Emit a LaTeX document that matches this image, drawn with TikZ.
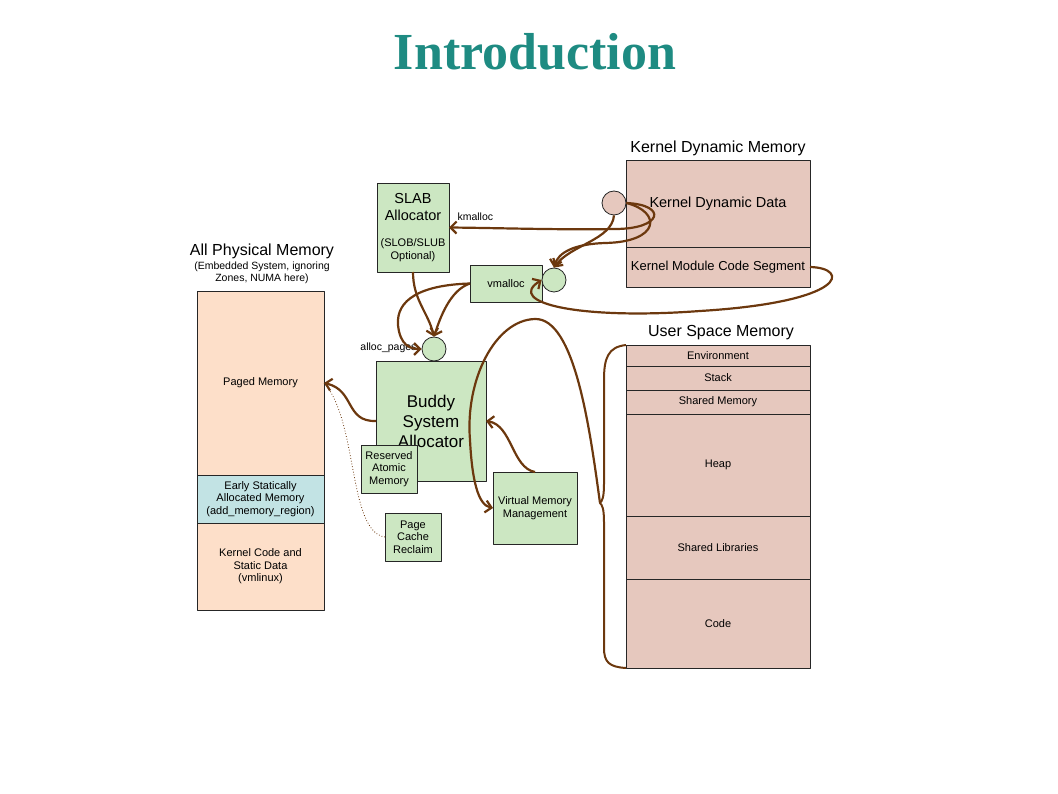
\documentclass[tikz,border=0pt]{standalone}
\usepackage{fontspec}
\setmainfont{Liberation Sans}
\newfontfamily\titlefont{Liberation Serif}
\usetikzlibrary{arrows.meta}
\usetikzlibrary{positioning}
\definecolor{brn}{RGB}{108,56,14}
\definecolor{grnfill}{RGB}{204,231,194}
\definecolor{pnkfill}{RGB}{230,200,190}
\definecolor{pchfill}{RGB}{253,223,201}
\definecolor{bluefill}{RGB}{194,227,228}
\definecolor{tealtitle}{RGB}{30,139,130}
\begin{document}
\begin{tikzpicture}[x=1pt,y=-1pt,>={Straight Barb[length=6pt,width=12pt]},
					line join=round]
					\tikzstyle{region}=[draw=black!85,line width=0.8pt,inner sep=0pt,outer sep=0pt,align=center,
					font=\fontsize{11}{12.5}\selectfont]
					\tikzstyle{user}=[region,fill=pnkfill,minimum width=184pt]
					\tikzstyle{phys}=[region,fill=pchfill,minimum width=127pt]
					\tikzstyle{unit}=[region,fill=grnfill]
					\tikzstyle{port}=[circle,draw=black!85,line width=0.8pt,minimum size=24pt,inner sep=0pt]
					\tikzstyle{head}=[font=\fontsize{16}{18}\selectfont]
					\tikzstyle{note}=[font=\fontsize{10.5}{12}\selectfont]
					\tikzstyle{conn}=[draw=brn,line width=2.2pt,->]
					
					\useasboundingbox (0,0) rectangle (1058,794);
					
					\node[font=\titlefont\bfseries\fontsize{52}{60}\selectfont,text=tealtitle] (title) at (535,52) {Introduction};
					
					% kernel dynamic memory
					\node[head] (kdm_t) at (718,148) {Kernel Dynamic Memory};
					\node[user,minimum height=87pt,font=\fontsize{14.5}{17}\selectfont] (kdd) at (718,203.5) {Kernel Dynamic Data};
					\node[user,minimum height=40pt,below=0pt of kdd,font=\fontsize{13}{15}\selectfont] (kmcs) {Kernel Module Code Segment};
					
					% user space memory
					\node[head] (usm_t) at (721,333) {User Space Memory};
					\node[user,minimum height=21pt] (env) at (718,355.5) {Environment};
					\node[user,minimum height=24pt,below=0pt of env] (stack) {Stack};
					\node[user,minimum height=24pt,below=0pt of stack] (shm) {Shared Memory};
					\node[user,minimum height=102pt,below=0pt of shm] (heap) {Heap};
					\node[user,minimum height=63pt,below=0pt of heap] (shlib) {Shared Libraries};
					\node[user,minimum height=89pt,below=0pt of shlib] (code) {Code};
					
					% all physical memory
					\node[head] (apm_t) at (262,251) {All Physical Memory};
					\node[note,align=center] (apm_n) at (262,273) {(Embedded System, ignoring\\Zones, NUMA here)};
					\node[phys,minimum height=184pt] (paged) at (260.5,383) {Paged Memory};
					\node[phys,minimum height=48pt,below=0pt of paged,fill=bluefill] (early) {Early Statically\\Allocated Memory\\(add\_memory\_region)};
					\node[phys,minimum height=87pt,below=0pt of early] (kcode) {Kernel Code and\\Static Data\\(vmlinux)};
					
					% allocators
					\node[unit,minimum width=72pt,minimum height=89pt,font=\fontsize{14.5}{17}\selectfont] (slab) at (413,227.5)
					{SLAB\\Allocator\\[9pt]{\fontsize{11}{13}\selectfont (SLOB/SLUB}\\[-4pt]{\fontsize{11}{13}\selectfont Optional)}};
					\node[unit,minimum width=72pt,minimum height=37pt] (vmalloc) at (506,283.5) {vmalloc};
					\node[unit,minimum width=110pt,minimum height=120pt,font=\fontsize{17}{20}\selectfont] (buddy) at (431,421) {Buddy\\System\\Allocator};
					\node[unit,minimum width=56pt,minimum height=48pt] (ram) at (389,469) {Reserved\\Atomic\\Memory};
					\node[unit,minimum width=56pt,minimum height=48pt] (pcr) at (413,537) {Page\\Cache\\Reclaim};
					\node[unit,minimum width=84pt,minimum height=72pt] (vmm) at (535,508) {Virtual Memory\\Management};
					
					\node[port,fill=pnkfill] (kcirc) at (614,203) {};
					\node[port,fill=grnfill] (vcirc) at (554,280) {};
					\node[port,fill=grnfill] (acirc) at (434,349) {};
					
					\node[note,anchor=west] (kmalloc_l) at (454,217) {kmalloc};
					\node[note,anchor=east] (alloc_l) at (420,348) {alloc\_pages};
					
					% brace round user space
					\coordinate (btip) at (600,503);
					\draw[brn,line width=2pt] (env.north west) .. controls (608,347) and (604,358) .. (604,380) -- (604,484)
					.. controls (604,498) and (602,501) .. (btip) .. controls (602,505) and (604,508) .. (604,522) -- (604,648)
					.. controls (604,662) and (609,667) .. (code.south west);
					
					\path[conn] (kcirc.east) .. controls (668,205) and (662,229) .. (615,229) .. controls (560,230) and (500,228) .. (slab.east);
					\path[conn] (kcirc.east) .. controls (662,212) and (660,242) .. (605,243) .. controls (575,244) and (558,252) .. (vcirc.north);
					\path[conn] (kcirc.south) .. controls (612,240) and (570,245) .. (vcirc.north);
					\path[conn] (kmcs.east) .. controls (850,268) and (848,302) .. (700,311) .. controls (580,320) and (505,303) .. (vcirc.west);
					\path[conn] (slab.south) .. controls (413,300) and (428,312) .. (acirc.north);
					\path[conn] (vmalloc.west) .. controls (450,290) and (440,318) .. (acirc.north);
					\path[conn] (vmalloc.west) .. controls (420,285) and (396,300) .. (398,325) .. controls (400,345) and (410,349) .. (acirc.west);
					\path[conn] (buddy.west) .. controls (345,422) and (355,390) .. (paged.east);
					\draw[brn,line width=0.8pt,dotted] (pcr.west) .. controls (348,532) and (358,420) .. (paged.east);
					\path[conn] (vmm.north) .. controls (512,468) and (512,425) .. (buddy.east);
					\path[conn] (btip) .. controls (590,430) and (575,318) .. (535,319) .. controls (495,320) and (465,380) .. (470,440)
					.. controls (472,480) and (478,505) .. (vmm.west);
					\end{tikzpicture}
\end{document}
